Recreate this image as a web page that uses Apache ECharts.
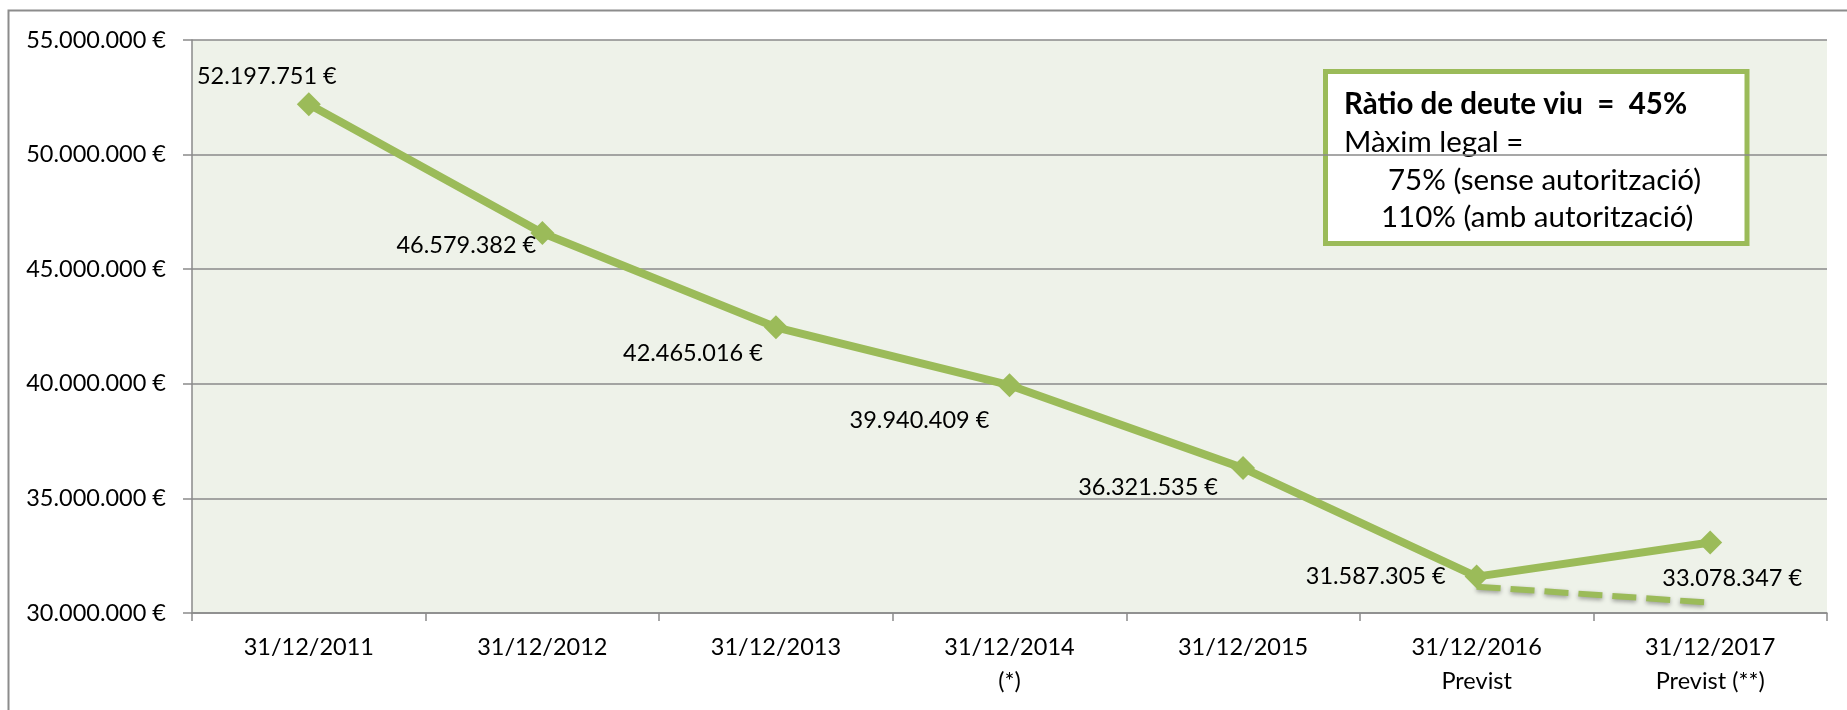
<!DOCTYPE html>
<html>
<head>
<meta charset="utf-8">
<script src="https://cdn.jsdelivr.net/npm/echarts@6.0.0/dist/echarts.min.js"></script>
<style>
  html, body { margin: 0; padding: 0; background: #fff; }
  #deute { width: 1847px; height: 710px; }
</style>
</head>
<body>
<div id="deute"></div>
<script>
var myChartDeute = echarts.init(document.getElementById('deute'));

// dades
var dates = ['31/12/2011', '31/12/2012', '31/12/2013', '31/12/2014\n(*)', '31/12/2015', '31/12/2016\nPrevist', '31/12/2017\nPrevist (**)'];
var deuteViu = [52197751, 46579382, 42465016, 39940409, 36321535, 31587305, 33078347];
var previsio = [null, null, null, null, null, 31150000, 30450000];

// posicio manual de les etiquetes (com a l'original)
var labelOffsets = [[-42, -28], [-76, 12], [-83, 26], [-90, 35], [-95, 19], [-101, 0], [22, 36]];

var verd = '#9BBB59';
var gris = '#8a8a8a';
var font = 'Lato';

function euros(v) {
    return String(Math.round(v)).replace(/\B(?=(\d{3})+(?!\d))/g, '.') + ' €';
}

var puntsDeute = deuteViu.map(function (v, i) {
    return {
        value: v,
        label: { offset: labelOffsets[i] }
    };
});

option = {
    animation: false,
    grid: {
        left: 192,
        top: 40,
        right: 20,
        bottom: 97,
        show: true,
        backgroundColor: '#EEF2E9',
        borderWidth: 0
    },
    xAxis: {
        type: 'category',
        data: dates,
        axisLine: { lineStyle: { color: gris, width: 1.5 } },
        axisTick: { show: true, length: 8, lineStyle: { color: gris, width: 1.5 } },
        axisLabel: {
            color: '#000',
            fontFamily: font,
            fontSize: 23.5,
            lineHeight: 34,
            margin: 17,
            interval: 0
        }
    },
    yAxis: {
        type: 'value',
        min: 30000000,
        max: 55000000,
        interval: 5000000,
        axisLine: { show: true, lineStyle: { color: gris, width: 1.5 } },
        axisTick: { show: true, length: 9, lineStyle: { color: gris, width: 1.5 } },
        splitLine: { lineStyle: { color: gris, width: 1.5 } },
        axisLabel: {
            color: '#000',
            fontFamily: font,
            fontSize: 23.5,
            margin: 26,
            formatter: euros
        }
    },
    series: [
        {
            name: 'Previsió',
            type: 'line',
            data: previsio,
            symbol: 'none',
            z: 2,
            lineStyle: {
                color: verd,
                width: 6,
                type: [24, 10],
                shadowColor: 'rgba(0,0,0,0.35)',
                shadowBlur: 4,
                shadowOffsetY: 2
            }
        },
        {
            name: 'Deute viu',
            type: 'line',
            data: puntsDeute,
            symbol: 'diamond',
            symbolSize: 24,
            z: 3,
            itemStyle: { color: verd },
            lineStyle: { color: verd, width: 8 },
            label: {
                show: true,
                position: 'inside',
                color: '#000',
                fontFamily: font,
                fontSize: 23.5,
                formatter: function (p) { return euros(p.value); }
            }
        }
    ],
    graphic: [
        {
            type: 'rect',
            z: -10,
            silent: true,
            shape: { x: 8.5, y: 10.5, width: 1900, height: 800 },
            style: { fill: 'none', stroke: '#8c8c8c', lineWidth: 2 }
        },
        {
            type: 'group',
            z: 100,
            children: [
                {
                    type: 'rect',
                    shape: { x: 1325.5, y: 71.5, width: 421.5, height: 172 },
                    style: { fill: '#fff', stroke: verd, lineWidth: 5 }
                },
                {
                    type: 'text',
                    style: {
                        x: 1344, y: 104, text: 'Ràtio de deute viu  =  45%',
                        fill: '#000', font: 'bold 29.5px Lato', align: 'left', verticalAlign: 'middle'
                    }
                },
                {
                    type: 'text',
                    style: {
                        x: 1344, y: 142, text: 'Màxim legal =',
                        fill: '#000', font: '29.5px Lato', align: 'left', verticalAlign: 'middle'
                    }
                },
                {
                    type: 'text',
                    style: {
                        x: 1388, y: 180, text: '75% (sense autorització)',
                        fill: '#000', font: '29.5px Lato', align: 'left', verticalAlign: 'middle'
                    }
                },
                {
                    type: 'text',
                    style: {
                        x: 1381, y: 217, text: '110% (amb autorització)',
                        fill: '#000', font: '29.5px Lato', align: 'left', verticalAlign: 'middle'
                    }
                }
            ]
        }
    ]
};

myChartDeute.setOption(option);
</script>
</body>
</html>
